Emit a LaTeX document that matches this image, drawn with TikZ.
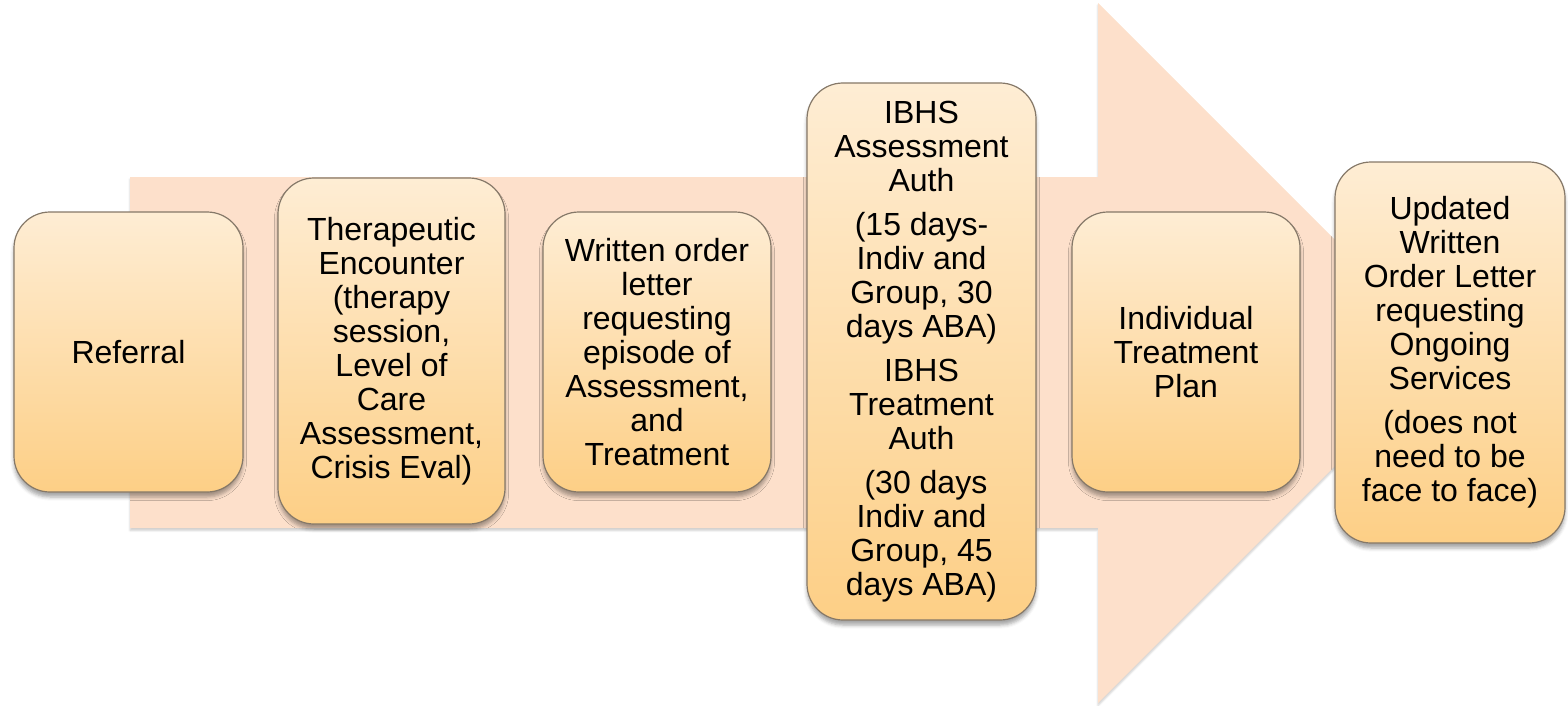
\documentclass[tikz,border=0pt]{standalone}
\usepackage{fontspec}
\setmainfont{Liberation Sans}
\usetikzlibrary{shadows.blur}
\definecolor{arrowfill}{HTML}{FDE0CB}
\definecolor{boxtop}{HTML}{FEEDD4}
\definecolor{boxbottom}{HTML}{FDCF86}
\definecolor{boxline}{HTML}{857868}
\tikzset{
  stepbox/.style={
    draw=boxline, line width=0.6pt, rounded corners=18pt,
    top color=boxtop, bottom color=boxbottom,
    minimum width=#1, inner sep=0pt, align=center,
    font=\fontsize{16pt}{17pt}\selectfont,
    blur shadow={shadow xshift=0pt, shadow yshift=-2.5pt,
                 shadow blur radius=1.8pt, shadow opacity=35}
  },
  bigarrow/.style={fill=arrowfill, draw=none}
}
\newcommand{\pgap}{\\[5pt]}
\begin{document}
\begin{tikzpicture}[x=0.5pt, y=-0.5pt]
  \useasboundingbox (0,0) rectangle (1568,706);
  % the broad process arrow behind the steps
  \fill[bigarrow, blur shadow={shadow xshift=0pt, shadow yshift=-1.2pt, shadow blur radius=1pt, shadow opacity=20}]
    (130,177) -- (1098,177) -- (1098,3) -- (1448,353) -- (1098,703)
    -- (1098,528) -- (130,528) -- cycle;
  % the steps
  \node[stepbox=114.5pt, minimum height=140pt] (ref) at (128.5,352) {Referral};
  \node[stepbox=113.5pt, minimum height=173pt] (ther) at (391.5,351)
    {Therapeutic\\Encounter\\(therapy\\session,\\Level of\\Care\\Assessment,\\Crisis Eval)};
  \node[stepbox=114pt, minimum height=140pt] (wo) at (657,352)
    {Written order\\letter\\requesting\\episode of\\Assessment,\\and\\Treatment};
  \node[stepbox=114.5pt, minimum height=268.5pt] (ibhs) at (921.5,351.5)
    {IBHS\\Assessment\\Auth\pgap
     (15 days-\\Indiv and\\Group, 30\\days ABA)\pgap
     IBHS\\Treatment\\Auth\pgap
     \mbox{}\ (30 days\\Indiv and\\Group, 45\\days ABA)};
  \node[stepbox=114pt, minimum height=140pt] (itp) at (1186,352)
    {Individual\\Treatment\\Plan};
  \node[stepbox=115pt, minimum height=190.5pt] (upd) at (1450,352.5)
    {Updated\\Written\\Order Letter\\requesting\\Ongoing\\Services\pgap
     (does not\\need to be\\face to face)};
\end{tikzpicture}
\end{document}
